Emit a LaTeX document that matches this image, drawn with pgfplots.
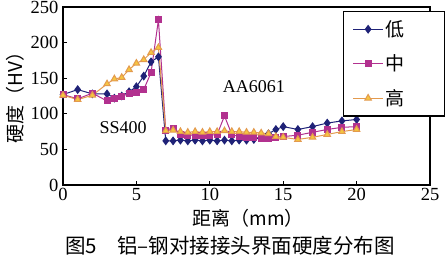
\documentclass[border=0pt]{standalone}
\usepackage{fontspec}
\setmainfont{Liberation Serif}
\newfontfamily\cjk{Noto Sans CJK SC}
\usepackage{pgfplots}
\pgfplotsset{compat=1.18}
\definecolor{cLow}{HTML}{1F2277}
\definecolor{cMid}{HTML}{B2318F}
\definecolor{cHighL}{HTML}{E39A4E}
\definecolor{cHighF}{HTML}{F6C640}
\begin{document}
\begin{tikzpicture}[x=1pt,y=1pt]
\path[use as bounding box] (0,0) rectangle (446,263);
\begin{axis}[
  at={(63pt,78pt)}, anchor=south west,
  scale only axis, width=367pt, height=178pt,
  xmin=0, xmax=25, ymin=0, ymax=250,
  xtick={0,5,10,15,20,25}, ytick={0,50,100,150,200,250},
  tick pos=left, tick align=inside, major tick length=4pt,
  axis line style={line width=1.3pt}, every tick/.style={line width=1.2pt, black},
  /pgf/number format/assume math mode=true,
  ticklabel style={font=\fontsize{18.5}{20}\selectfont},
  yticklabel style={xshift=-1pt},
  legend style={at={(rel axis cs:0.763,0.978)}, anchor=north west, draw=black, line width=1.2pt,
    font=\fontsize{19}{21}\selectfont\cjk, row sep=13pt, inner xsep=9pt, inner ysep=7pt, fill=white},
  legend cell align=left,
  legend image code/.code={\draw[mark repeat=2,mark phase=2,#1] plot coordinates {(0pt,0pt) (15pt,0pt) (30pt,0pt)};},
  clip=false,
]
\addplot[color=cLow, line width=1pt, mark=diamond*, mark size=3.7pt, mark options={fill=cLow, draw=cLow}] coordinates {
(0,127) (1,134) (2,128) (3,128) (3.5,122) (4,125) (4.5,131) (5,138) (5.5,153) (6,173) (6.5,180)
(7,62) (7.5,62) (8,63) (8.5,62) (9,63) (9.5,62) (10,63) (10.5,62) (11,63) (11.5,62) (12,63) (12.5,63) (13,64) (13.5,67) (14,72) (14.5,78) (15,82)
(16,78) (17,82) (18,87) (19,90) (20,92)};
\addlegendentry{\makebox[48pt][l]{低}}
\addplot[color=cMid, line width=1pt, mark=square*, mark size=3pt, mark options={fill=cMid, draw=cMid}] coordinates {
(0,127) (1,121) (2,129) (3,118) (3.5,122) (4,125) (4.5,128) (5,130) (5.5,134) (6,158) (6.5,232)
(7,77) (7.5,80) (8,71) (8.5,70) (9,70) (9.5,69) (10,70) (10.5,71) (11,97) (11.5,71) (12,68) (12.5,67) (13,67) (13.5,66) (14,66) (14.5,67) (15,68)
(16,70) (17,74) (18,78) (19,81) (20,82)};
\addlegendentry{\makebox[48pt][l]{中}}
\addplot[color=cHighL, line width=1pt, mark=triangle*, mark size=3.7pt, mark options={fill=cHighF, draw=cHighL}] coordinates {
(0,126) (1,120) (2,126) (3,142) (3.5,149) (4,151) (4.5,162) (5,171) (5.5,176) (6,186) (6.5,193)
(7,76) (7.5,77) (8,75) (8.5,74) (9,75) (9.5,74) (10,75) (10.5,75) (11,76) (11.5,75) (12,75) (12.5,74) (13,74) (13.5,73) (14,72) (14.5,68) (15,67)
(16,64) (17,67) (18,71) (19,75) (20,78)};
\addlegendentry{\makebox[48pt][l]{高}}
\node[font=\fontsize{18}{20}\selectfont] at (axis cs:4.1,81) {SS400};
\node[font=\fontsize{18}{20}\selectfont] at (axis cs:13.0,138) {AA6061};
\end{axis}
\node[font=\fontsize{19}{21}\selectfont\cjk, rotate=90] at (15,170) {硬度（HV）};
\node[font=\fontsize{19}{21}\selectfont\cjk] at (248,45) {距离（mm）};
\node[font=\fontsize{20.5}{22}\selectfont\cjk] at (230,17) {图5\quad 铝–钢对接接头界面硬度分布图};
\end{tikzpicture}
\end{document}
